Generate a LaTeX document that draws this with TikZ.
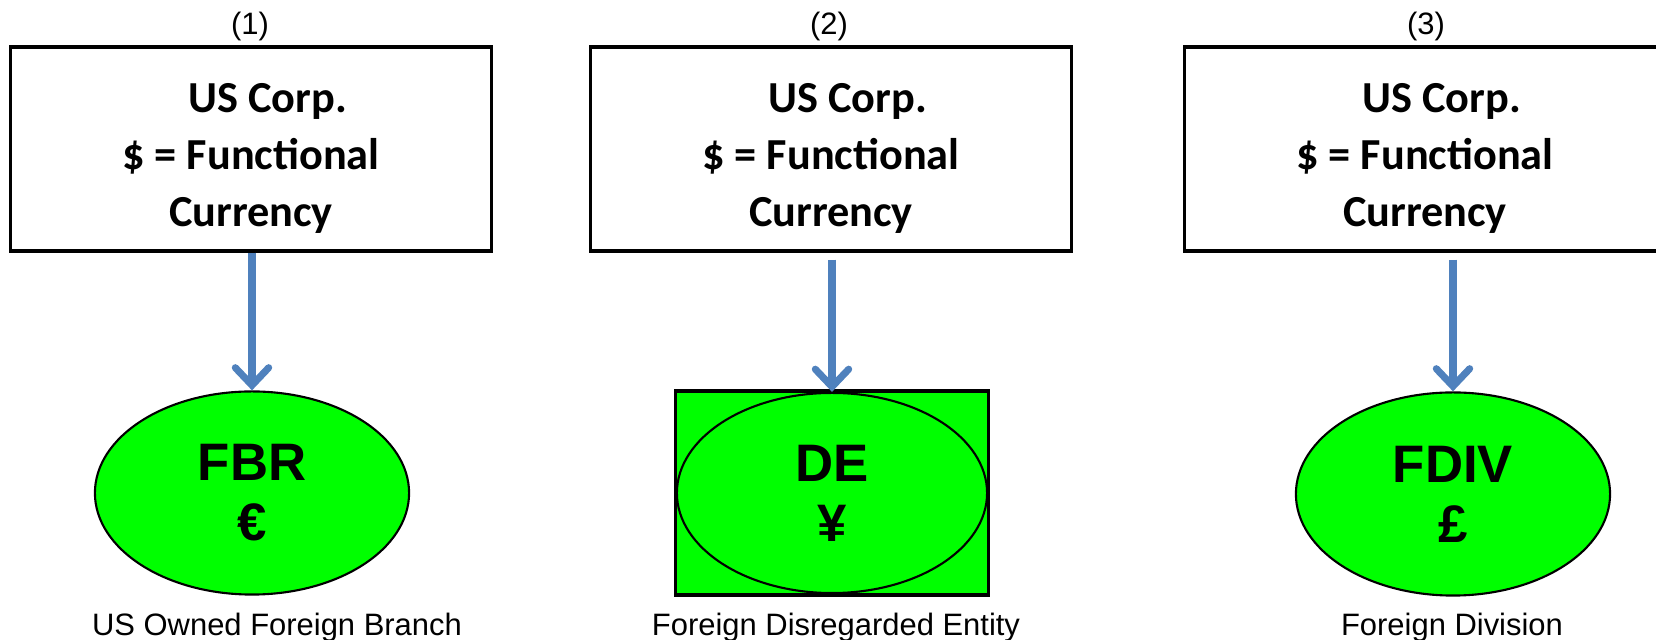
\documentclass[tikz,border=0pt]{standalone}
\usepackage{fontspec}
\setmainfont{Liberation Sans}
\newfontfamily\calibri{Carlito}
\usetikzlibrary{shapes.geometric,arrows.meta}

\definecolor{entgreen}{RGB}{0,255,0}
\definecolor{ownblue}{RGB}{79,129,189}

\newcommand{\corptext}{\rule{0pt}{13.6pt}\hspace*{0.75em}US Corp.\\ \$ = Functional\\ Currency}

\tikzset{
  corp/.style={draw, line width=0.9pt, minimum width=4.8cm, minimum height=2.04cm,
    align=center, font=\calibri\bfseries\fontsize{12.6}{16.3}\selectfont},
  entity/.style={ellipse, draw, fill=entgreen, line width=0.6pt, inner sep=0pt,
    minimum width=3.14cm, minimum height=2.03cm, align=center,
    font=\bfseries\fontsize{15}{17}\selectfont},
  debox/.style={draw, fill=entgreen, line width=0.9pt, inner sep=0pt,
    minimum width=3.12cm, minimum height=2.04cm},
  own/.style={draw=ownblue, line width=2pt, -{Straight Barb[length=5pt,width=9.5pt,line cap=round]}},
  caption/.style={font=\fontsize{8.8}{10}\selectfont}
}

\begin{document}
\begin{tikzpicture}[x=0.01cm, y=-0.01cm]
  \useasboundingbox (0,0) rectangle (1656,640);
  \clip (0,0) rectangle (1656,640);

  % (1) branch
  \node[caption] (num1) at (250,26) {(1)};
  \node[corp] (corp1) at (251,149) {\corptext};
  \node[entity] (fbr) at (252,493) {FBR\\ €};
  \node[caption] (cap1) at (277,628) {US Owned Foreign Branch};
  \draw[own] (corp1.south -| fbr.north) -- (fbr.north);

  % (2) disregarded entity
  \node[caption] (num2) at (829,26) {(2)};
  \node[corp] (corp2) at (831,149) {\corptext};
  \node[debox] (debox) at (832,493) {};
  \node[entity, minimum width=3.1cm, minimum height=2.0cm] (de) at (debox.center) {DE\\ ¥};
  \node[caption] (cap2) at (836,628) {Foreign Disregarded Entity};
  \draw[own, shorten <=2pt] (corp2.south -| de.north) -- (de.north);

  % (3) division
  \node[caption] (num3) at (1426,26) {(3)};
  \node[corp] (corp3) at (1425,149) {\corptext};
  \node[entity] (fdiv) at (1453,494) {FDIV\\ £};
  \node[caption] (cap3) at (1452,628) {Foreign Division};
  \draw[own, shorten <=2pt] (corp3.south -| fdiv.north) -- (fdiv.north);
\end{tikzpicture}
\end{document}
